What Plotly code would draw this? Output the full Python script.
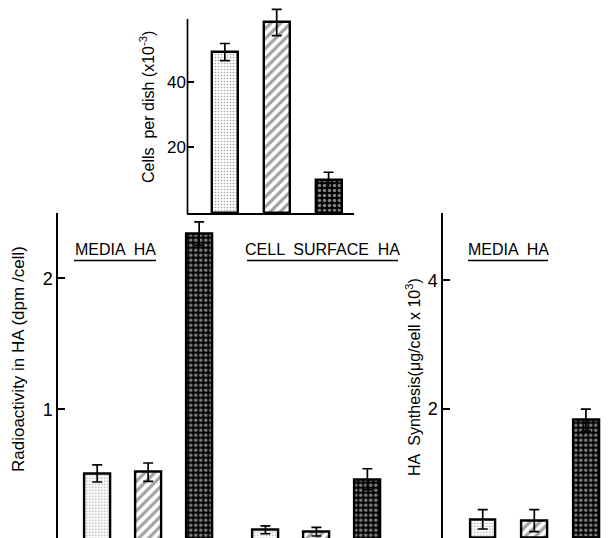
import plotly.graph_objects as go

# ---- data ----
treatments = ["A", "B", "C"]

cells_per_dish = [49, 58, 10]          # x10^-3
cells_err = [2.6, 4.0, 2.4]

media_ha_dpm = [0.51, 0.52, 2.34]      # dpm/cell
media_ha_dpm_err = [0.065, 0.07, 0.09]
surface_ha_dpm = [0.08, 0.066, 0.466]
surface_ha_dpm_err = [0.03, 0.033, 0.08]

media_ha_synth = [0.29, 0.27, 1.83]    # ug/cell x10^3
media_ha_synth_err = [0.15, 0.17, 0.17]

# page has an 8px body margin; compensate
OFF = 8
W, H = 610 - OFF, 538 - OFF
FONT = "Liberation Sans"

pat_shape = [".", "/", "."]
pat_fg = ["#8a8a8a", "black", "white"]
pat_bg = ["white", "white", "black"]
pat_size = [3, 7, 5]
pat_sol = [0.22, 0.45, 0.4]


def px(x):
    return (x - OFF) / W


def py(y):
    return min(1.0, max(0.0, 1 - (y - OFF) / H))


def bar_trace(xs, ys, errs, xa, ya):
    n = len(ys) // 3
    return go.Bar(
        x=xs, y=ys, width=0.5, xaxis=xa, yaxis=ya, showlegend=False,
        marker=dict(
            color=pat_bg * n,
            line=dict(color="black", width=2.4),
            pattern=dict(shape=pat_shape * n, fgcolor=pat_fg * n,
                         size=pat_size * n, solidity=pat_sol * n,
                         fillmode="overlay"),
        ),
        error_y=dict(type="data", array=errs, symmetric=True, color="black",
                     thickness=1.7, width=5),
    )


fig = go.Figure()

idx = list(range(1, len(treatments) + 1))
fig.add_trace(bar_trace(idx, cells_per_dish, cells_err, "x", "y"))
gap = 3.3
left_x = idx + [i + gap for i in idx]
fig.add_trace(bar_trace(left_x, media_ha_dpm + surface_ha_dpm,
                        media_ha_dpm_err + surface_ha_dpm_err, "x2", "y2"))
fig.add_trace(bar_trace(idx, media_ha_synth, media_ha_synth_err, "x3", "y3"))

yax_common = dict(showline=True, linecolor="black", linewidth=1.7, ticks="inside",
                  ticklen=7, tickwidth=1.7, tickcolor="black", showgrid=False,
                  zeroline=False, tickfont=dict(family=FONT, size=18, color="black"),
                  automargin=False)

fig.update_layout(
    width=W, height=H,
    margin=dict(l=0, r=0, t=0, b=0),
    paper_bgcolor="white", plot_bgcolor="rgba(0,0,0,0)",
    font=dict(family=FONT, color="black"),
    bargap=0,
    xaxis=dict(domain=[px(187), px(354)], range=[0.27, 3.49], showline=True,
               linecolor="black", linewidth=1.7, showticklabels=False, ticks="",
               showgrid=False, zeroline=False, anchor="y"),
    yaxis=dict(domain=[py(213), py(8)], range=[0, 62.4], tickvals=[20, 40],
               anchor="x", **{**yax_common, "showline": False,
                              "tickfont": dict(family=FONT, size=17, color="black")}),
    xaxis2=dict(domain=[px(58.3), px(400)], range=[0.237, 6.94], showline=False,
                showticklabels=False, ticks="", showgrid=False, zeroline=False, anchor="y2"),
    yaxis2=dict(domain=[0, py(212.7)], range=[0.0176, 2.5], tickvals=[1, 2],
                anchor="x2", **yax_common),
    xaxis3=dict(domain=[px(443.3), 1.0], range=[0.236, 3.467], showline=False,
                showticklabels=False, ticks="", showgrid=False, zeroline=False, anchor="y3"),
    yaxis3=dict(domain=[0, py(212.7)], range=[0, 5.05], tickvals=[2, 4],
                anchor="x3", **yax_common),
)

# y-axis line of the inset (shorter than its plotting area so error bars are not clipped)
fig.add_shape(type="line", xref="paper", yref="paper", x0=px(187.5), x1=px(187.5),
              y0=py(214), y1=py(19), line=dict(color="black", width=1.7))


def ann(text, x, y, size, angle=0):
    fig.add_annotation(text=text, x=px(x), y=py(y), xref="paper", yref="paper",
                       showarrow=False, textangle=angle, xanchor="center", yanchor="middle",
                       font=dict(family=FONT, size=size, color="black"))


ann("Cells  per dish (x10<sup>-3</sup>)", 147, 107, 16, -90)
ann("Radioactivity in HA (dpm /cell)", 18, 359, 17, -90)
ann("HA  Synthesis(μg/cell x 10<sup>3</sup>)", 413, 377, 16, -90)

ann("MEDIA  HA", 115, 249, 16)
ann("CELL  SURFACE  HA", 322.5, 249, 16)
ann("MEDIA  HA", 508, 249, 16)

for x0, x1 in [(74, 156), (247, 398), (468, 548)]:
    fig.add_shape(type="line", xref="paper", yref="paper", x0=px(x0), x1=px(x1),
                  y0=py(260.5), y1=py(260.5), line=dict(color="black", width=1.7))

fig.write_html("out.html")
